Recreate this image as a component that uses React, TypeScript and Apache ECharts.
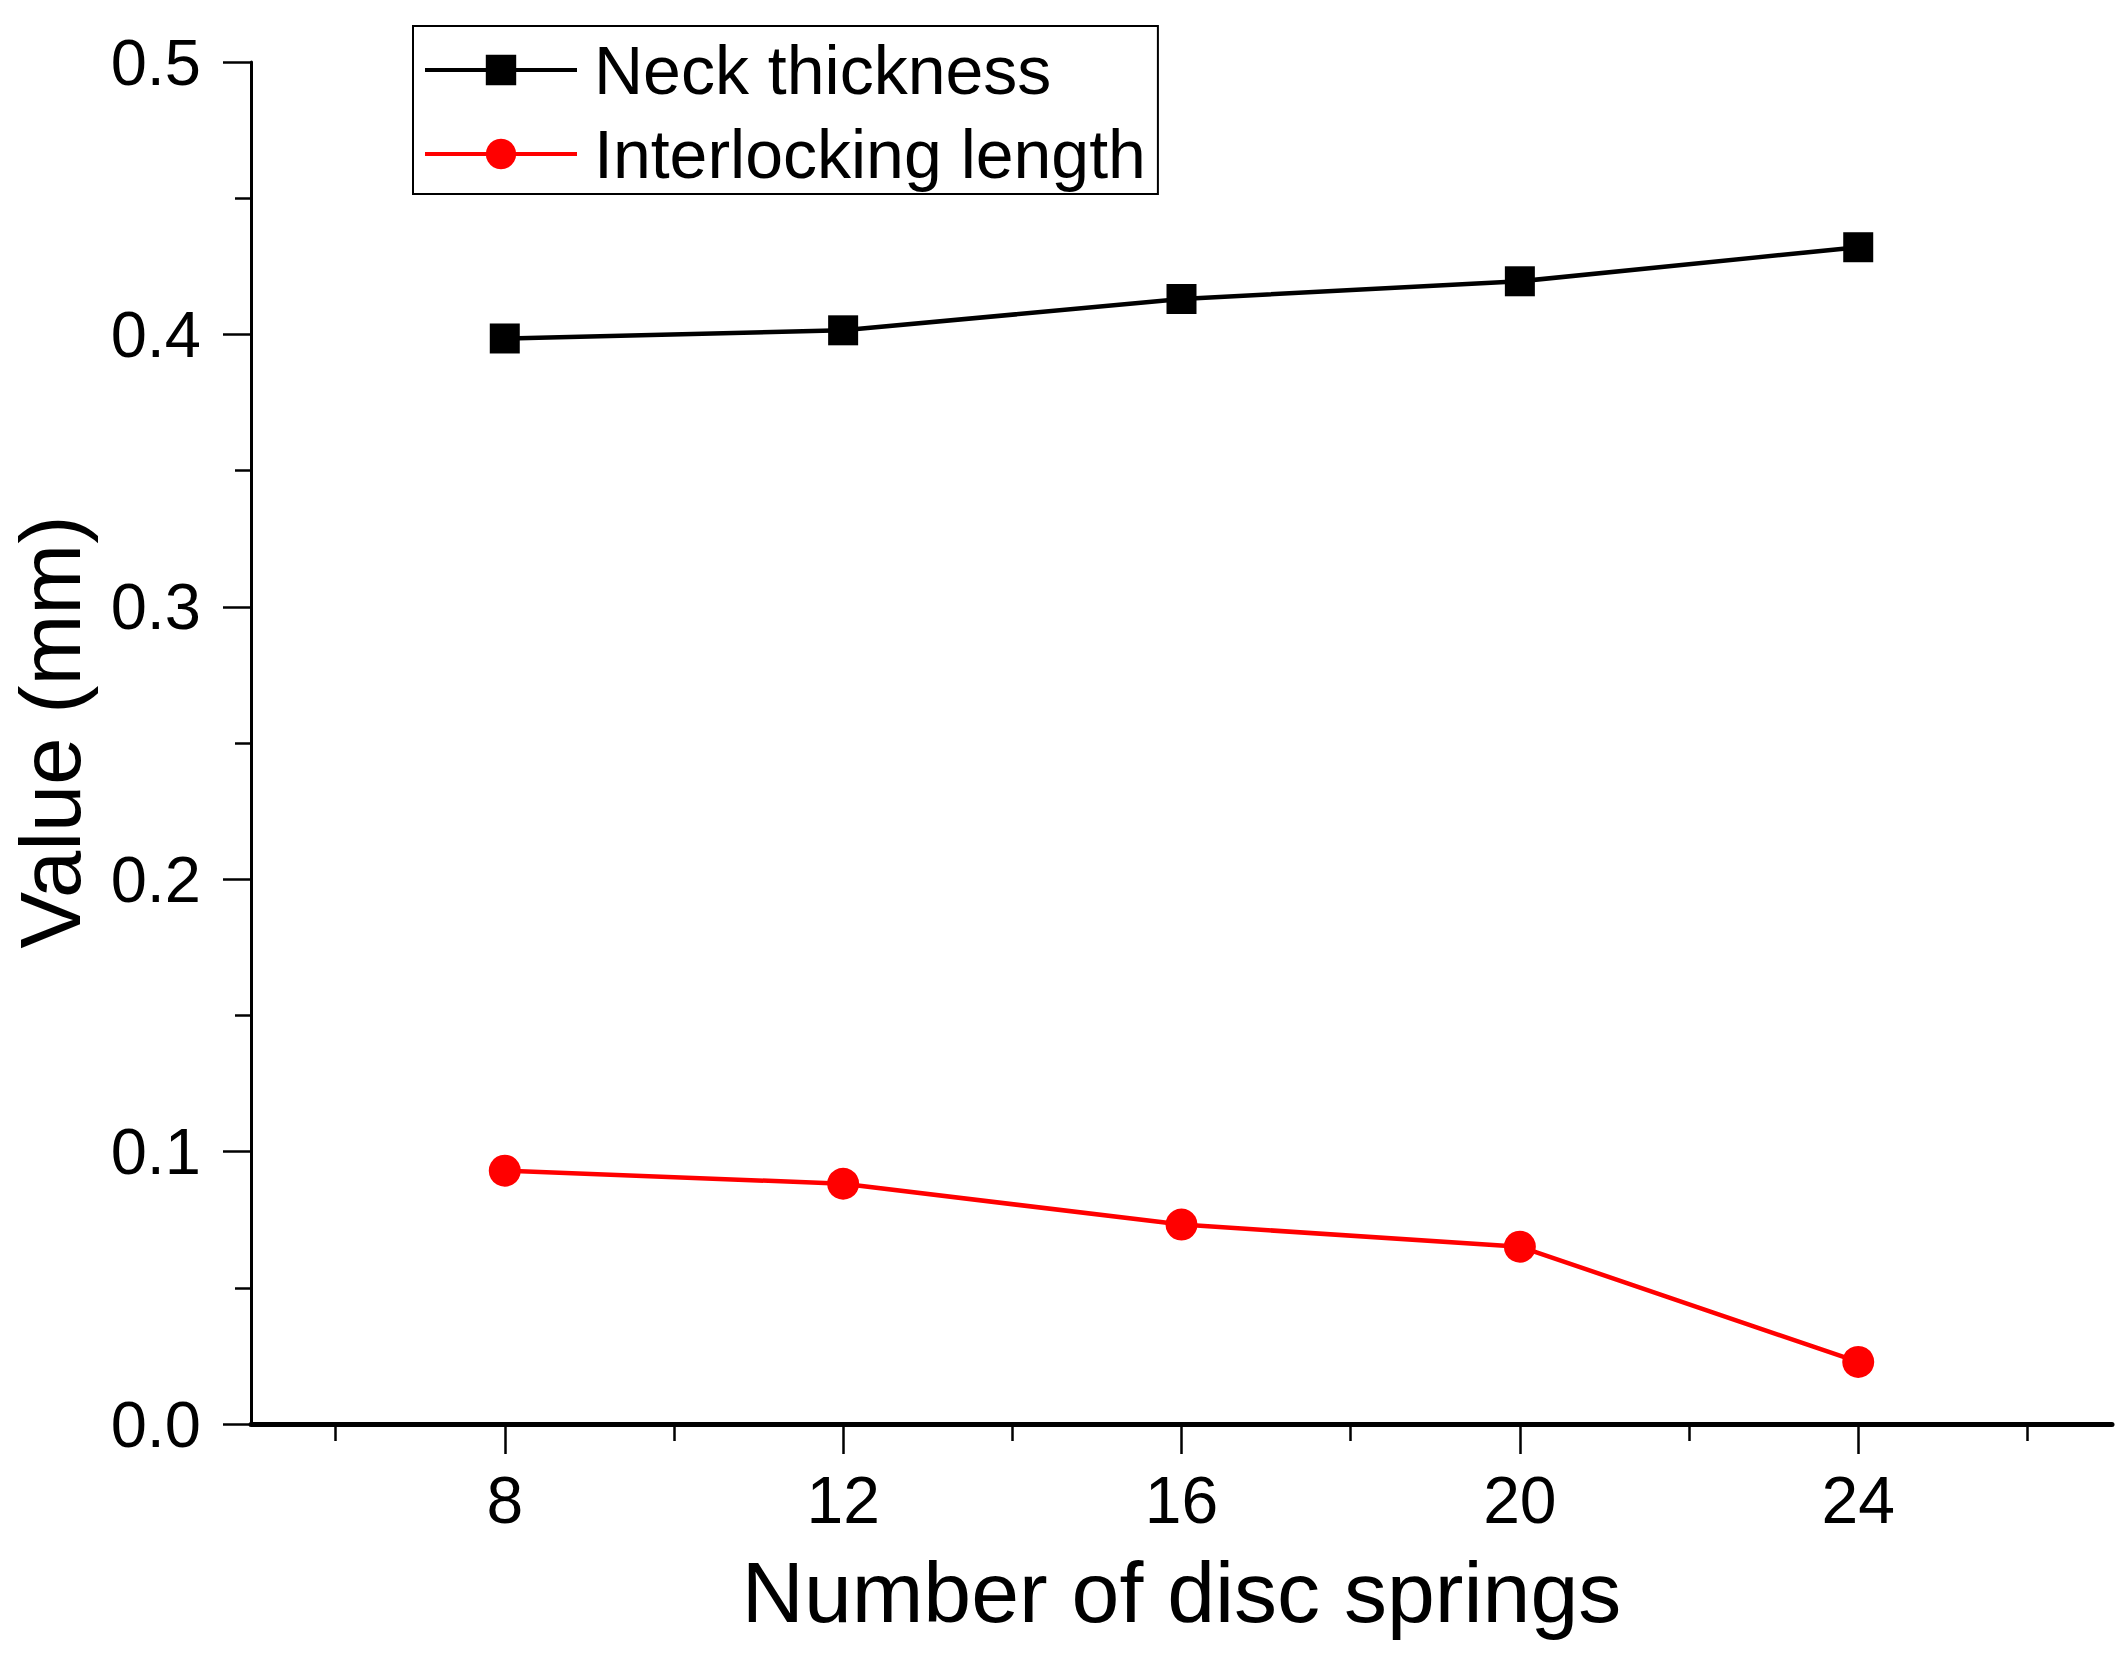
import React, { useEffect, useRef } from "react";
import * as echarts from "echarts";

const xValues = [8, 12, 16, 20, 24];
const neckThickness = [0.3985, 0.4015, 0.413, 0.4195, 0.432];
const interlockingLength = [0.093, 0.0882, 0.0732, 0.0651, 0.0228];
const majorXTicks = [8, 12, 16, 20, 24];
const minorXTicks = [6, 10, 14, 18, 22, 26];
const seriesNames = ["Neck thickness", "Interlocking length"];

const FONT = "'Liberation Sans', Arial, sans-serif";

export default function App() {
  const ref = useRef<HTMLDivElement>(null);
  useEffect(() => {
    if (!ref.current) return;
    const chart = echarts.init(ref.current, undefined, { renderer: "svg" });
    const axisX = {
      type: "value",
      min: 5,
      max: 27,
      position: "bottom",
      splitLine: { show: false },
    };
    chart.setOption({
      animation: false,
      backgroundColor: "#ffffff",
      textStyle: { fontFamily: FONT },
      grid: { left: 249, right: 12, top: 62, bottom: 231, containLabel: false },
      legend: {
        orient: "vertical",
        left: 413,
        top: 26,
        padding: [10, 12, 6, 10],
        itemGap: 16,
        itemWidth: 152,
        itemHeight: 38,
        borderColor: "#000",
        borderWidth: 2,
        backgroundColor: "#fff",
        lineStyle: { width: 4 },
        textStyle: { fontSize: 68, fontFamily: FONT, color: "#000", lineHeight: 68, padding: [0, 0, 0, 12] },
        data: seriesNames,
      },
      xAxis: [
        {
          ...axisX,
          name: "Number of disc springs",
          nameLocation: "middle",
          nameGap: 125,
          nameTextStyle: { fontSize: 86, fontFamily: FONT, color: "#000" },
          axisLine: { show: true, onZero: false, lineStyle: { color: "#000", width: 5 } },
          axisTick: { show: true, inside: false, length: 30, customValues: majorXTicks, lineStyle: { color: "#000", width: 2.5 } },
          axisLabel: { show: true, margin: 43, fontSize: 66, fontFamily: FONT, color: "#000", customValues: majorXTicks },
        },
        {
          ...axisX,
          axisLine: { show: false },
          axisTick: { show: true, inside: false, length: 17, customValues: minorXTicks, lineStyle: { color: "#000", width: 2.5 } },
          axisLabel: { show: false },
        },
      ],
      yAxis: {
        type: "value",
        min: 0,
        max: 0.5,
        interval: 0.1,
        name: "Value (mm)",
        nameLocation: "middle",
        nameGap: 158,
        nameTextStyle: { fontSize: 85, fontFamily: FONT, color: "#000", padding: [0, 0, 0, 22] },
        splitLine: { show: false },
        axisLine: { show: true, onZero: false, lineStyle: { color: "#000", width: 3 } },
        axisTick: { show: true, inside: false, length: 28, lineStyle: { color: "#000", width: 2.5 } },
        minorTick: { show: true, splitNumber: 2, length: 16, lineStyle: { color: "#000", width: 2.5 } },
        axisLabel: {
          margin: 50,
          fontSize: 65,
          fontFamily: FONT,
          color: "#000",
          formatter: (v: number) => v.toFixed(1),
        },
      },
      series: [
        {
          name: seriesNames[0],
          type: "line",
          xAxisIndex: 0,
          data: xValues.map((x, i) => [x, neckThickness[i]]),
          symbol: "rect",
          symbolSize: 30,
          lineStyle: { color: "#000", width: 4.5 },
          itemStyle: { color: "#000" },
        },
        {
          name: seriesNames[1],
          type: "line",
          xAxisIndex: 0,
          data: xValues.map((x, i) => [x, interlockingLength[i]]),
          symbol: "circle",
          symbolSize: 32,
          lineStyle: { color: "#ff0000", width: 4.5 },
          itemStyle: { color: "#ff0000" },
        },
      ],
    });
    return () => chart.dispose();
  }, []);
  return (
    <div
      ref={ref}
      style={{ position: "fixed", left: 0, top: 0, width: 2124, height: 1655 }}
    />
  );
}
